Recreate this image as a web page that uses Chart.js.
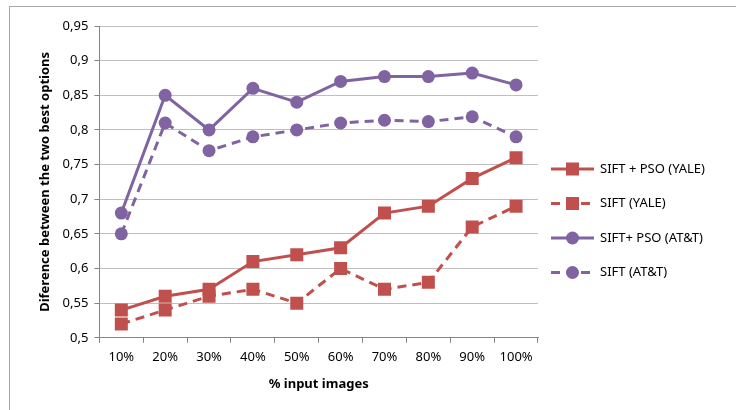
<!DOCTYPE html>
<html>
<head>
<meta charset="utf-8">
<script src="https://cdn.jsdelivr.net/npm/chart.js@4.4.1/dist/chart.umd.min.js"></script>
<style>
  html, body { margin: 0; padding: 0; background: #fff; overflow: hidden; }
  #moldura { position: absolute; left: 9px; top: 6px; width: 900px; height: 600px; border: 1px solid #a6a6a6; }
  #caixa { position: absolute; left: 0; top: 0; width: 736px; height: 410px; }
</style>
</head>
<body>
<div id="moldura"></div>
<div id="caixa"><canvas id="grafico" width="736" height="410"></canvas></div>
<script>
// Categorias do eixo X
const categorias = ['10%', '20%', '30%', '40%', '50%', '60%', '70%', '80%', '90%', '100%'];

// Séries
const siftPsoYale = [0.54, 0.56, 0.57, 0.61, 0.62, 0.63, 0.68, 0.69, 0.73, 0.76];
const siftYale = [0.52, 0.54, 0.56, 0.57, 0.55, 0.60, 0.57, 0.58, 0.66, 0.69];
const siftPsoAtt = [0.68, 0.85, 0.80, 0.86, 0.84, 0.87, 0.877, 0.877, 0.882, 0.865];
const siftAtt = [0.65, 0.81, 0.77, 0.79, 0.80, 0.81, 0.814, 0.812, 0.819, 0.79];

// Rótulos
const nomesSeries = ['SIFT + PSO (YALE)', 'SIFT (YALE)', 'SIFT+ PSO (AT&T)', 'SIFT (AT&T)'];
const tituloX = '% input images';
const tituloY = 'Diference between the two best options';

const vermelho = '#C0504D';
const roxo = '#8064A2';
const tracejado = [9, 6];
const fonte = "'Noto Sans', sans-serif";

function serie(nome, dados, cor, estilo, raio, tracos) {
    return {
        label: nome,
        data: dados,
        borderColor: cor,
        backgroundColor: cor,
        borderWidth: 3,
        borderDash: tracos,
        pointStyle: estilo,
        pointRadius: raio,
        pointHoverRadius: raio,
        pointBorderWidth: 0,
        tension: 0
    };
}

// Legenda desenhada à direita, no estilo do Excel
const legendaLateral = {
    id: 'legendaLateral',
    afterDraw(chart) {
        const ctx = chart.ctx;
        const x0 = chart.chartArea.right + 13;
        let y = chart.chartArea.top + 143;
        chart.data.datasets.forEach(function (ds) {
            ctx.save();
            ctx.strokeStyle = ds.borderColor;
            ctx.lineWidth = 3;
            ctx.setLineDash(ds.borderDash || []);
            ctx.beginPath();
            ctx.moveTo(x0, y);
            ctx.lineTo(x0 + 43, y);
            ctx.stroke();
            ctx.setLineDash([]);
            ctx.fillStyle = ds.backgroundColor;
            if (ds.pointStyle === 'rect') {
                ctx.fillRect(x0 + 21.5 - 6.5, y - 6.5, 13, 13);
            } else {
                ctx.beginPath();
                ctx.arc(x0 + 21.5, y, 6.5, 0, Math.PI * 2);
                ctx.fill();
            }
            ctx.fillStyle = '#000';
            ctx.font = '13px ' + fonte;
            ctx.textBaseline = 'middle';
            ctx.fillText(ds.label, x0 + 49, y);
            ctx.restore();
            y += 34.5;
        });
    }
};

const grafico = new Chart(document.getElementById('grafico'), {
    type: 'line',
    data: {
        labels: categorias,
        datasets: [
            serie(nomesSeries[0], siftPsoYale, vermelho, 'rect', 9.2, []),
            serie(nomesSeries[1], siftYale, vermelho, 'rect', 9.2, tracejado),
            serie(nomesSeries[2], siftPsoAtt, roxo, 'circle', 6.5, []),
            serie(nomesSeries[3], siftAtt, roxo, 'circle', 6.5, tracejado)
        ]
    },
    options: {
        responsive: false,
        animation: false,
        layout: { padding: { left: 33, right: 198, top: 26, bottom: 14 } },
        plugins: {
            legend: { display: false },
            tooltip: { enabled: false }
        },
        scales: {
            x: {
                offset: true,
                grid: {
                    offset: true,
                    drawOnChartArea: false,
                    drawTicks: true,
                    tickLength: 5,
                    color: '#868686'
                },
                border: { color: '#868686', width: 1 },
                ticks: { color: '#000', font: { family: fonte, size: 13 }, padding: 7, maxRotation: 0 },
                title: {
                    display: true,
                    text: tituloX,
                    color: '#000',
                    font: { family: fonte, size: 13, weight: 'bold' },
                    padding: { top: 4 }
                }
            },
            y: {
                min: 0.5,
                max: 0.95,
                ticks: {
                    stepSize: 0.05,
                    color: '#000',
                    font: { family: fonte, size: 13 },
                    padding: 6,
                    callback: function (v) { return String(Math.round(v * 100) / 100).replace('.', ','); }
                },
                grid: { color: '#BFBFBF', tickLength: 5, tickColor: '#868686' },
                border: { color: '#868686', width: 1 },
                title: {
                    display: true,
                    text: tituloY,
                    color: '#000',
                    font: { family: fonte, size: 13, weight: 'bold' },
                    padding: { bottom: 4 }
                }
            }
        }
    },
    plugins: [legendaLateral]
});
</script>
</body>
</html>
